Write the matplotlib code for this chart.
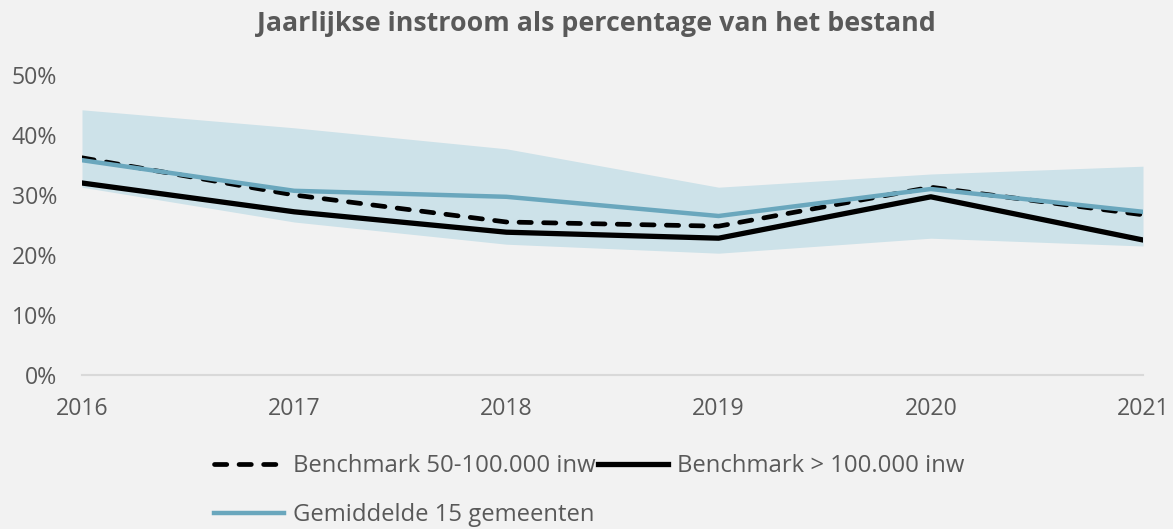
import matplotlib
matplotlib.use('Agg')
import matplotlib.pyplot as plt
from matplotlib.ticker import PercentFormatter

jaren = [2016, 2017, 2018, 2019, 2020, 2021]
band_max = [0.442, 0.412, 0.377, 0.313, 0.335, 0.348]
band_min = [0.313, 0.255, 0.218, 0.203, 0.228, 0.215]
bench_50_100 = [0.362, 0.300, 0.255, 0.248, 0.313, 0.267]
bench_100 = [0.320, 0.272, 0.238, 0.228, 0.297, 0.225]
gemiddelde = [0.358, 0.307, 0.297, 0.265, 0.310, 0.272]

plt.rcParams['font.family'] = ['Open Sans', 'DejaVu Sans']
grijs = '#595959'
bg = '#f2f2f2'

fig = plt.figure(figsize=(11.73, 5.29), dpi=100, facecolor=bg)
ax = fig.add_axes([82/1173, 1-375/529, (1143-82)/1173, 300/529])
ax.set_facecolor(bg)

ax.fill_between(jaren, band_min, band_max, color='#cde2e9', lw=0, zorder=1)
l1, = ax.plot(jaren, bench_50_100, color='black', lw=3.4, dashes=(2.6, 2.6),
              dash_capstyle='round', label='Benchmark 50-100.000 inw', zorder=3)
l2, = ax.plot(jaren, bench_100, color='black', lw=3.8,
              label='Benchmark > 100.000 inw', zorder=3)
l3, = ax.plot(jaren, gemiddelde, color='#6aa7bd', lw=3.2,
              label='Gemiddelde 15 gemeenten', zorder=4)

ax.set_xlim(2016, 2021)
ax.set_ylim(0, 0.5)
ax.set_xticks(jaren)
ax.set_yticks([0, 0.1, 0.2, 0.3, 0.4, 0.5])
ax.yaxis.set_major_formatter(PercentFormatter(1.0, decimals=0))
ax.tick_params(length=0, labelsize=16.7, labelcolor=grijs)
ax.tick_params(axis='y', pad=18)
ax.tick_params(axis='x', pad=16)
for s in ['top', 'right', 'left']:
    ax.spines[s].set_visible(False)
ax.spines['bottom'].set_color('#d9d9d9')
ax.spines['bottom'].set_linewidth(1.5)

fig.text(596/1173, 1-24/529, 'Jaarlijkse instroom als percentage van het bestand',
         ha='center', va='center', fontsize=19.3, fontweight='bold', color=grijs)

leg = fig.legend(handles=[l1, l3, l2], ncol=2, loc='upper left',
                 bbox_to_anchor=(214/1173, 1-454/529), frameon=False,
                 fontsize=17.2, handlelength=2.95, handletextpad=0.35,
                 columnspacing=0.1, labelspacing=1.05, borderpad=0,
                 borderaxespad=0)
for t in leg.get_texts():
    t.set_color(grijs)

fig.savefig('out.png', dpi=100, facecolor=bg)
